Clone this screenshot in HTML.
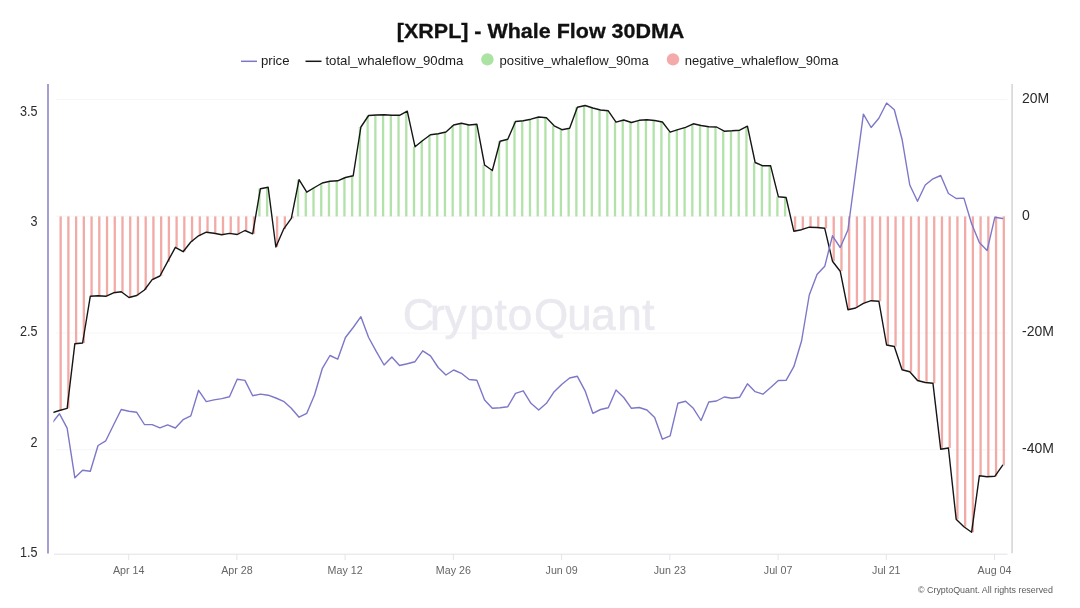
<!DOCTYPE html>
<html lang="en"><head><meta charset="utf-8"><title>[XRPL] - Whale Flow 30DMA</title>
<style>
html,body{margin:0;padding:0;background:#fff;}
body{width:1080px;height:608px;overflow:hidden;font-family:"Liberation Sans",sans-serif;}
svg{display:block;}
text{font-family:"Liberation Sans",sans-serif;}
.title{font-size:21px;font-weight:700;fill:#111;stroke:#111;stroke-width:0.3px;}
.lg{font-size:13.1px;fill:#1c1c1c;}
.yl{font-size:14px;fill:#2a2a2a;}
.xl{font-size:10.7px;fill:#666;}
.wm{font-size:44px;fill:#e9e9ef;stroke:#e9e9ef;stroke-width:0.6px;}
.cr{font-size:9px;fill:#5a5a5a;}
</style></head><body>
<svg width="1080" height="608" viewBox="0 0 1080 608">
<rect width="1080" height="608" fill="#ffffff"/>
<defs><clipPath id="cp"><rect x="53.4" y="84" width="955" height="470"/></clipPath></defs>
<line x1="56" x2="1007.5" y1="99.5" y2="99.5" stroke="#f6f6f8" stroke-width="1"/><line x1="56" x2="1007.5" y1="216.2" y2="216.2" stroke="#f6f6f8" stroke-width="1"/><line x1="56" x2="1007.5" y1="333" y2="333" stroke="#f6f6f8" stroke-width="1"/><line x1="56" x2="1007.5" y1="449.8" y2="449.8" stroke="#f6f6f8" stroke-width="1"/>
<text x="418.6 437.4 455.6 481.6 500.6 520 551.2 579.4 603.6 629.4 648.4" y="330.3" text-anchor="middle" class="wm">CryptoQuant</text>
<g><rect x="59.50" y="216.4" width="2.3" height="194.1" fill="#f2aaa6"/><rect x="67.23" y="216.4" width="2.3" height="191.9" fill="#f2aaa6"/><rect x="74.96" y="216.4" width="2.3" height="127.3" fill="#f2aaa6"/><rect x="82.69" y="216.4" width="2.3" height="126.6" fill="#f2aaa6"/><rect x="90.42" y="216.4" width="2.3" height="79.8" fill="#f2aaa6"/><rect x="98.15" y="216.4" width="2.3" height="79.3" fill="#f2aaa6"/><rect x="105.88" y="216.4" width="2.3" height="79.9" fill="#f2aaa6"/><rect x="113.62" y="216.4" width="2.3" height="76.4" fill="#f2aaa6"/><rect x="121.35" y="216.4" width="2.3" height="75.4" fill="#f2aaa6"/><rect x="129.08" y="216.4" width="2.3" height="81.1" fill="#f2aaa6"/><rect x="136.81" y="216.4" width="2.3" height="79.1" fill="#f2aaa6"/><rect x="144.54" y="216.4" width="2.3" height="73.6" fill="#f2aaa6"/><rect x="152.27" y="216.4" width="2.3" height="63.3" fill="#f2aaa6"/><rect x="160.00" y="216.4" width="2.3" height="59.6" fill="#f2aaa6"/><rect x="167.73" y="216.4" width="2.3" height="45.3" fill="#f2aaa6"/><rect x="175.46" y="216.4" width="2.3" height="30.9" fill="#f2aaa6"/><rect x="183.19" y="216.4" width="2.3" height="35.3" fill="#f2aaa6"/><rect x="190.92" y="216.4" width="2.3" height="25.6" fill="#f2aaa6"/><rect x="198.65" y="216.4" width="2.3" height="19.4" fill="#f2aaa6"/><rect x="206.38" y="216.4" width="2.3" height="15.8" fill="#f2aaa6"/><rect x="214.11" y="216.4" width="2.3" height="16.9" fill="#f2aaa6"/><rect x="221.85" y="216.4" width="2.3" height="18.4" fill="#f2aaa6"/><rect x="229.58" y="216.4" width="2.3" height="17.0" fill="#f2aaa6"/><rect x="237.31" y="216.4" width="2.3" height="18.1" fill="#f2aaa6"/><rect x="245.04" y="216.4" width="2.3" height="14.1" fill="#f2aaa6"/><rect x="252.77" y="216.4" width="2.3" height="17.4" fill="#f2aaa6"/><rect x="258.25" y="188.7" width="2.3" height="27.7" fill="#b2e2aa"/><rect x="265.98" y="187.2" width="2.3" height="29.2" fill="#b2e2aa"/><rect x="275.96" y="216.4" width="2.3" height="30.6" fill="#f2aaa6"/><rect x="283.69" y="216.4" width="2.3" height="12.8" fill="#f2aaa6"/><rect x="291.42" y="216.4" width="2.3" height="1.9" fill="#f2aaa6"/><rect x="296.90" y="179.7" width="2.3" height="36.7" fill="#b2e2aa"/><rect x="304.63" y="192.2" width="2.3" height="24.2" fill="#b2e2aa"/><rect x="312.36" y="187.5" width="2.3" height="28.9" fill="#b2e2aa"/><rect x="320.09" y="183.0" width="2.3" height="33.4" fill="#b2e2aa"/><rect x="327.83" y="181.3" width="2.3" height="35.1" fill="#b2e2aa"/><rect x="335.56" y="180.8" width="2.3" height="35.6" fill="#b2e2aa"/><rect x="343.29" y="177.5" width="2.3" height="38.9" fill="#b2e2aa"/><rect x="351.02" y="175.8" width="2.3" height="40.6" fill="#b2e2aa"/><rect x="358.75" y="127.0" width="2.3" height="89.4" fill="#b2e2aa"/><rect x="366.48" y="115.5" width="2.3" height="100.9" fill="#b2e2aa"/><rect x="374.21" y="115.0" width="2.3" height="101.4" fill="#b2e2aa"/><rect x="381.94" y="114.7" width="2.3" height="101.7" fill="#b2e2aa"/><rect x="389.67" y="115.3" width="2.3" height="101.1" fill="#b2e2aa"/><rect x="397.40" y="115.3" width="2.3" height="101.1" fill="#b2e2aa"/><rect x="405.13" y="111.2" width="2.3" height="105.2" fill="#b2e2aa"/><rect x="412.86" y="146.7" width="2.3" height="69.7" fill="#b2e2aa"/><rect x="420.59" y="140.5" width="2.3" height="75.9" fill="#b2e2aa"/><rect x="428.32" y="134.7" width="2.3" height="81.7" fill="#b2e2aa"/><rect x="436.06" y="133.8" width="2.3" height="82.6" fill="#b2e2aa"/><rect x="443.79" y="132.0" width="2.3" height="84.4" fill="#b2e2aa"/><rect x="451.52" y="125.0" width="2.3" height="91.4" fill="#b2e2aa"/><rect x="459.25" y="123.3" width="2.3" height="93.1" fill="#b2e2aa"/><rect x="466.98" y="125.0" width="2.3" height="91.4" fill="#b2e2aa"/><rect x="474.71" y="124.2" width="2.3" height="92.2" fill="#b2e2aa"/><rect x="482.44" y="165.0" width="2.3" height="51.4" fill="#b2e2aa"/><rect x="490.17" y="170.5" width="2.3" height="45.9" fill="#b2e2aa"/><rect x="497.90" y="141.2" width="2.3" height="75.2" fill="#b2e2aa"/><rect x="505.63" y="139.2" width="2.3" height="77.2" fill="#b2e2aa"/><rect x="513.36" y="121.5" width="2.3" height="94.9" fill="#b2e2aa"/><rect x="521.09" y="120.8" width="2.3" height="95.6" fill="#b2e2aa"/><rect x="528.82" y="119.2" width="2.3" height="97.2" fill="#b2e2aa"/><rect x="536.55" y="117.0" width="2.3" height="99.4" fill="#b2e2aa"/><rect x="544.28" y="117.8" width="2.3" height="98.6" fill="#b2e2aa"/><rect x="552.02" y="125.8" width="2.3" height="90.6" fill="#b2e2aa"/><rect x="559.75" y="129.7" width="2.3" height="86.7" fill="#b2e2aa"/><rect x="567.48" y="128.3" width="2.3" height="88.1" fill="#b2e2aa"/><rect x="575.21" y="107.2" width="2.3" height="109.2" fill="#b2e2aa"/><rect x="582.94" y="105.5" width="2.3" height="110.9" fill="#b2e2aa"/><rect x="590.67" y="108.0" width="2.3" height="108.4" fill="#b2e2aa"/><rect x="598.40" y="110.0" width="2.3" height="106.4" fill="#b2e2aa"/><rect x="606.13" y="110.8" width="2.3" height="105.6" fill="#b2e2aa"/><rect x="613.86" y="122.2" width="2.3" height="94.2" fill="#b2e2aa"/><rect x="621.59" y="120.0" width="2.3" height="96.4" fill="#b2e2aa"/><rect x="629.32" y="122.5" width="2.3" height="93.9" fill="#b2e2aa"/><rect x="637.05" y="120.3" width="2.3" height="96.1" fill="#b2e2aa"/><rect x="644.78" y="119.7" width="2.3" height="96.7" fill="#b2e2aa"/><rect x="652.51" y="120.5" width="2.3" height="95.9" fill="#b2e2aa"/><rect x="660.25" y="122.0" width="2.3" height="94.4" fill="#b2e2aa"/><rect x="667.98" y="132.2" width="2.3" height="84.2" fill="#b2e2aa"/><rect x="675.71" y="129.7" width="2.3" height="86.7" fill="#b2e2aa"/><rect x="683.44" y="127.3" width="2.3" height="89.1" fill="#b2e2aa"/><rect x="691.17" y="123.8" width="2.3" height="92.6" fill="#b2e2aa"/><rect x="698.90" y="125.5" width="2.3" height="90.9" fill="#b2e2aa"/><rect x="706.63" y="126.7" width="2.3" height="89.7" fill="#b2e2aa"/><rect x="714.36" y="127.0" width="2.3" height="89.4" fill="#b2e2aa"/><rect x="722.09" y="131.2" width="2.3" height="85.2" fill="#b2e2aa"/><rect x="729.82" y="130.8" width="2.3" height="85.6" fill="#b2e2aa"/><rect x="737.55" y="130.2" width="2.3" height="86.2" fill="#b2e2aa"/><rect x="745.28" y="126.2" width="2.3" height="90.2" fill="#b2e2aa"/><rect x="753.01" y="162.5" width="2.3" height="53.9" fill="#b2e2aa"/><rect x="760.74" y="165.8" width="2.3" height="50.6" fill="#b2e2aa"/><rect x="768.48" y="165.8" width="2.3" height="50.6" fill="#b2e2aa"/><rect x="776.21" y="196.7" width="2.3" height="19.7" fill="#b2e2aa"/><rect x="783.94" y="197.5" width="2.3" height="18.9" fill="#b2e2aa"/><rect x="793.92" y="216.4" width="2.3" height="14.8" fill="#f2aaa6"/><rect x="801.65" y="216.4" width="2.3" height="13.3" fill="#f2aaa6"/><rect x="809.38" y="216.4" width="2.3" height="10.8" fill="#f2aaa6"/><rect x="817.11" y="216.4" width="2.3" height="11.1" fill="#f2aaa6"/><rect x="824.84" y="216.4" width="2.3" height="11.9" fill="#f2aaa6"/><rect x="832.57" y="216.4" width="2.3" height="44.8" fill="#f2aaa6"/><rect x="840.30" y="216.4" width="2.3" height="54.8" fill="#f2aaa6"/><rect x="848.03" y="216.4" width="2.3" height="93.3" fill="#f2aaa6"/><rect x="855.76" y="216.4" width="2.3" height="91.6" fill="#f2aaa6"/><rect x="863.49" y="216.4" width="2.3" height="86.9" fill="#f2aaa6"/><rect x="871.22" y="216.4" width="2.3" height="84.3" fill="#f2aaa6"/><rect x="878.95" y="216.4" width="2.3" height="84.8" fill="#f2aaa6"/><rect x="886.69" y="216.4" width="2.3" height="128.6" fill="#f2aaa6"/><rect x="894.42" y="216.4" width="2.3" height="130.1" fill="#f2aaa6"/><rect x="902.15" y="216.4" width="2.3" height="153.3" fill="#f2aaa6"/><rect x="909.88" y="216.4" width="2.3" height="155.3" fill="#f2aaa6"/><rect x="917.61" y="216.4" width="2.3" height="164.1" fill="#f2aaa6"/><rect x="925.34" y="216.4" width="2.3" height="166.1" fill="#f2aaa6"/><rect x="933.07" y="216.4" width="2.3" height="166.9" fill="#f2aaa6"/><rect x="940.80" y="216.4" width="2.3" height="232.8" fill="#f2aaa6"/><rect x="948.53" y="216.4" width="2.3" height="231.6" fill="#f2aaa6"/><rect x="956.26" y="216.4" width="2.3" height="302.8" fill="#f2aaa6"/><rect x="963.99" y="216.4" width="2.3" height="310.3" fill="#f2aaa6"/><rect x="971.72" y="216.4" width="2.3" height="315.8" fill="#f2aaa6"/><rect x="979.45" y="216.4" width="2.3" height="259.4" fill="#f2aaa6"/><rect x="987.18" y="216.4" width="2.3" height="260.3" fill="#f2aaa6"/><rect x="994.92" y="216.4" width="2.3" height="259.9" fill="#f2aaa6"/><rect x="1002.65" y="216.4" width="2.3" height="248.9" fill="#f2aaa6"/></g>
<line x1="54" x2="1007.5" y1="554.2" y2="554.2" stroke="#e2e2e8" stroke-width="1"/>
<line x1="128.7" x2="128.7" y1="554" y2="560" stroke="#e4e4ea" stroke-width="1"/><text x="128.7" y="574.2" text-anchor="middle" class="xl">Apr 14</text><line x1="236.9" x2="236.9" y1="554" y2="560" stroke="#e4e4ea" stroke-width="1"/><text x="236.9" y="574.2" text-anchor="middle" class="xl">Apr 28</text><line x1="345.1" x2="345.1" y1="554" y2="560" stroke="#e4e4ea" stroke-width="1"/><text x="345.1" y="574.2" text-anchor="middle" class="xl">May 12</text><line x1="453.4" x2="453.4" y1="554" y2="560" stroke="#e4e4ea" stroke-width="1"/><text x="453.4" y="574.2" text-anchor="middle" class="xl">May 26</text><line x1="561.6" x2="561.6" y1="554" y2="560" stroke="#e4e4ea" stroke-width="1"/><text x="561.6" y="574.2" text-anchor="middle" class="xl">Jun 09</text><line x1="669.8" x2="669.8" y1="554" y2="560" stroke="#e4e4ea" stroke-width="1"/><text x="669.8" y="574.2" text-anchor="middle" class="xl">Jun 23</text><line x1="778.1" x2="778.1" y1="554" y2="560" stroke="#e4e4ea" stroke-width="1"/><text x="778.1" y="574.2" text-anchor="middle" class="xl">Jul 07</text><line x1="886.3" x2="886.3" y1="554" y2="560" stroke="#e4e4ea" stroke-width="1"/><text x="886.3" y="574.2" text-anchor="middle" class="xl">Jul 21</text><line x1="994.5" x2="994.5" y1="554" y2="560" stroke="#e4e4ea" stroke-width="1"/><text x="994.5" y="574.2" text-anchor="middle" class="xl">Aug 04</text>
<g clip-path="url(#cp)" fill="none" stroke-linejoin="round" stroke-linecap="round">
<path d="M51.67 413.0 L59.40 410.5 L67.13 408.3 L74.86 343.7 L82.59 343.0 L90.32 296.2 L98.05 295.7 L105.78 296.3 L113.52 292.8 L121.25 291.8 L128.98 297.5 L136.71 295.5 L144.44 290.0 L152.17 279.7 L159.90 276.0 L167.63 261.7 L175.36 247.3 L183.09 251.7 L190.82 242.0 L198.55 235.8 L206.28 232.2 L214.01 233.3 L221.75 234.8 L229.48 233.4 L237.21 234.5 L244.94 230.5 L252.67 233.8 L260.40 188.7 L268.13 187.2 L275.86 247.0 L283.59 229.2 L291.32 218.3 L299.05 179.7 L306.78 192.2 L314.51 187.5 L322.24 183.0 L329.98 181.3 L337.71 180.8 L345.44 177.5 L353.17 175.8 L360.90 127.0 L368.63 115.5 L376.36 115.0 L384.09 114.7 L391.82 115.3 L399.55 115.3 L407.28 111.2 L415.01 146.7 L422.74 140.5 L430.47 134.7 L438.20 133.8 L445.94 132.0 L453.67 125.0 L461.40 123.3 L469.13 125.0 L476.86 124.2 L484.59 165.0 L492.32 170.5 L500.05 141.2 L507.78 139.2 L515.51 121.5 L523.24 120.8 L530.97 119.2 L538.70 117.0 L546.43 117.8 L554.17 125.8 L561.90 129.7 L569.63 128.3 L577.36 107.2 L585.09 105.5 L592.82 108.0 L600.55 110.0 L608.28 110.8 L616.01 122.2 L623.74 120.0 L631.47 122.5 L639.20 120.3 L646.93 119.7 L654.66 120.5 L662.40 122.0 L670.13 132.2 L677.86 129.7 L685.59 127.3 L693.32 123.8 L701.05 125.5 L708.78 126.7 L716.51 127.0 L724.24 131.2 L731.97 130.8 L739.70 130.2 L747.43 126.2 L755.16 162.5 L762.89 165.8 L770.63 165.8 L778.36 196.7 L786.09 197.5 L793.82 231.2 L801.55 229.7 L809.28 227.2 L817.01 227.5 L824.74 228.3 L832.47 261.2 L840.20 271.2 L847.93 309.7 L855.66 308.0 L863.39 303.3 L871.12 300.7 L878.85 301.2 L886.59 345.0 L894.32 346.5 L902.05 369.7 L909.78 371.7 L917.51 380.5 L925.24 382.5 L932.97 383.3 L940.70 449.2 L948.43 448.0 L956.16 519.2 L963.89 526.7 L971.62 532.2 L979.35 475.8 L987.08 476.7 L994.82 476.3 L1002.55 465.3" stroke="#161616" stroke-width="1.4"/>
<path d="M51.67 423.5 L59.40 413.7 L67.13 428.2 L74.86 477.8 L82.59 470.3 L90.32 471.3 L98.05 445.5 L105.78 440.8 L113.52 425.0 L121.25 409.5 L128.98 411.3 L136.71 412.3 L144.44 424.5 L152.17 424.6 L159.90 427.9 L167.63 424.9 L175.36 428.0 L183.09 419.7 L190.82 415.9 L198.55 390.3 L206.28 401.6 L214.01 399.9 L221.75 398.6 L229.48 396.7 L237.21 379.3 L244.94 380.4 L252.67 395.7 L260.40 394.1 L268.13 395.2 L275.86 398.0 L283.59 401.3 L291.32 408.3 L299.05 417.2 L306.78 413.3 L314.51 395.0 L322.24 368.7 L329.98 355.5 L337.71 359.2 L345.44 337.5 L353.17 327.5 L360.90 316.7 L368.63 337.5 L376.36 351.7 L384.09 365.0 L391.82 357.0 L399.55 365.5 L407.28 363.8 L415.01 361.7 L422.74 350.8 L430.47 355.8 L438.20 367.5 L445.94 375.0 L453.67 370.0 L461.40 373.3 L469.13 379.5 L476.86 380.3 L484.59 400.0 L492.32 408.3 L500.05 407.8 L507.78 406.7 L515.51 393.3 L523.24 390.8 L530.97 403.3 L538.70 410.0 L546.43 403.3 L554.17 391.7 L561.90 384.2 L569.63 378.0 L577.36 376.3 L585.09 390.8 L592.82 413.3 L600.55 409.5 L608.28 407.8 L616.01 390.0 L623.74 397.5 L631.47 408.3 L639.20 407.5 L646.93 410.0 L654.66 417.5 L662.40 439.2 L670.13 435.8 L677.86 403.3 L685.59 401.3 L693.32 408.3 L701.05 420.5 L708.78 402.0 L716.51 401.0 L724.24 397.0 L731.97 398.3 L739.70 397.2 L747.43 383.8 L755.16 391.7 L762.89 394.2 L770.63 387.5 L778.36 380.5 L786.09 380.3 L793.82 366.7 L801.55 341.0 L809.28 295.0 L817.01 274.5 L824.74 266.3 L832.47 235.8 L840.20 247.5 L847.93 230.0 L855.66 172.0 L863.39 114.2 L871.12 127.5 L878.85 118.3 L886.59 103.0 L894.32 109.7 L902.05 139.2 L909.78 185.0 L917.51 201.3 L925.24 185.0 L932.97 178.8 L940.70 175.5 L948.43 193.5 L956.16 198.5 L963.89 198.1 L971.62 223.8 L979.35 242.5 L987.08 250.6 L994.82 217.3 L1002.55 218.5" stroke="#7d77c8" stroke-width="1.4"/>
</g>
<line x1="48" x2="48" y1="84" y2="553.5" stroke="#a39ed4" stroke-width="2"/>
<line x1="1012.1" x2="1012.1" y1="84" y2="553.2" stroke="#d6d6d6" stroke-width="1.6"/>
<text transform="translate(37.5 115.8) scale(0.9 1)" x="0" y="0" text-anchor="end" class="yl">3.5</text><text transform="translate(37.5 226.0) scale(0.9 1)" x="0" y="0" text-anchor="end" class="yl">3</text><text transform="translate(37.5 336.4) scale(0.9 1)" x="0" y="0" text-anchor="end" class="yl">2.5</text><text transform="translate(37.5 446.8) scale(0.9 1)" x="0" y="0" text-anchor="end" class="yl">2</text><text transform="translate(37.5 557.2) scale(0.9 1)" x="0" y="0" text-anchor="end" class="yl">1.5</text><text x="1022" y="102.9" class="yl">20M</text><text x="1022" y="219.7" class="yl">0</text><text x="1022" y="336.4" class="yl">-20M</text><text x="1022" y="453.1" class="yl">-40M</text>
<text x="540.6" y="38.2" text-anchor="middle" class="title" textLength="287.5" lengthAdjust="spacingAndGlyphs">[XRPL] - Whale Flow 30DMA</text>
<line x1="241" x2="257" y1="61.3" y2="61.3" stroke="#7d77c8" stroke-width="1.5"/>
<text x="261" y="65.3" class="lg" textLength="28.5" lengthAdjust="spacingAndGlyphs">price</text>
<line x1="305.5" x2="321.5" y1="61.3" y2="61.3" stroke="#161616" stroke-width="1.5"/>
<text x="325.4" y="65.3" class="lg" textLength="138" lengthAdjust="spacingAndGlyphs">total_whaleflow_90dma</text>
<circle cx="487.4" cy="59.4" r="6.2" fill="#abe3a3"/>
<text x="499.6" y="65.3" class="lg" textLength="149.2" lengthAdjust="spacingAndGlyphs">positive_whaleflow_90ma</text>
<circle cx="673" cy="59.4" r="6.2" fill="#f4aaa8"/>
<text x="684.8" y="65.3" class="lg" textLength="153.6" lengthAdjust="spacingAndGlyphs">negative_whaleflow_90ma</text>
<text x="1053" y="593.3" text-anchor="end" class="cr" textLength="135" lengthAdjust="spacingAndGlyphs">© CryptoQuant. All rights reserved</text>
</svg>
</body></html>
